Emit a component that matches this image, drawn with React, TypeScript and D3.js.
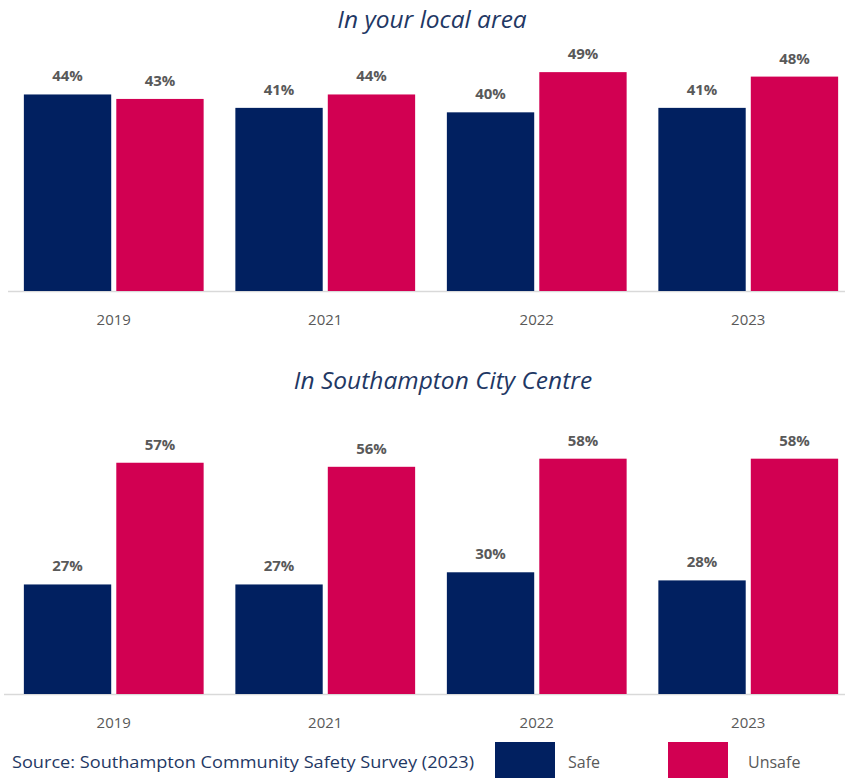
import React, { useEffect, useRef } from 'react';
import * as d3 from 'd3';

const YEARS = ['2019', '2021', '2022', '2023'];
const SERIES = ['Safe', 'Unsafe'];
const LOCAL_SAFE = [44, 41, 40, 41];
const LOCAL_UNSAFE = [43, 44, 49, 48];
const CITY_SAFE = [27, 27, 30, 28];
const CITY_UNSAFE = [57, 56, 58, 58];
const TITLES = ['In your local area', 'In Southampton City Centre'];
const SOURCE = 'Source: Southampton Community Safety Survey (2023)';

const COLORS: Record<string, string> = { Safe: '#012060', Unsafe: '#D20052' };
const FONT = '"Open Sans", "DejaVu Sans", sans-serif';

const W = 845;
const H = 778;

const App: React.FC = () => {
  const svgRef = useRef<SVGSVGElement | null>(null);

  useEffect(() => {
    if (!svgRef.current) return;
    const svg = d3.select(svgRef.current);
    svg.selectAll('*').remove();

    const x = d3.scaleBand<string>().domain(YEARS).range([8, 854]).paddingInner(0.15).paddingOuter(0.075);
    const xs = d3.scaleBand<string>().domain(SERIES).range([0, x.bandwidth()]).paddingInner(0.055);

    // each panel: baseline, y scale, data
    const panels = [
      {
        title: TITLES[0], titleY: 28, titleX: 432,
        y: d3.scaleLinear().domain([0, 60]).range([291, 23]),
        values: { Safe: LOCAL_SAFE, Unsafe: LOCAL_UNSAFE } as Record<string, number[]>,
        lineX0: 8,
      },
      {
        title: TITLES[1], titleY: 389, titleX: 443,
        y: d3.scaleLinear().domain([0, 70]).range([694, 410]),
        values: { Safe: CITY_SAFE, Unsafe: CITY_UNSAFE } as Record<string, number[]>,
        lineX0: 4,
      },
    ];

    panels.forEach((p) => {
      const g = svg.append('g');
      const base = p.y(0);

      g.append('text')
        .attr('x', p.titleX)
        .attr('y', p.titleY)
        .attr('text-anchor', 'middle')
        .attr('font-family', FONT)
        .attr('font-style', 'italic')
        .attr('font-size', 24.5)
        .attr('fill', '#1F3864')
        .text(p.title);

      g.append('line')
        .attr('x1', p.lineX0).attr('x2', W)
        .attr('y1', base + 0.5).attr('y2', base + 0.5)
        .attr('stroke', '#D9D9D9')
        .attr('stroke-width', 1.5);

      YEARS.forEach((yr, i) => {
        const gx = x(yr)!;
        SERIES.forEach((s) => {
          const v = p.values[s][i];
          const bx = gx + xs(s)!;
          g.append('rect')
            .attr('x', bx)
            .attr('y', p.y(v))
            .attr('width', xs.bandwidth())
            .attr('height', base - p.y(v))
            .attr('fill', COLORS[s]);
          g.append('text')
            .attr('x', bx + xs.bandwidth() / 2)
            .attr('y', p.y(v) - 13)
            .attr('text-anchor', 'middle')
            .attr('font-family', FONT)
            .attr('font-weight', 700)
            .attr('font-size', 15)
            .attr('fill', '#595959')
            .text(`${v}%`);
        });
        g.append('text')
          .attr('x', gx + x.bandwidth() / 2)
          .attr('y', base + 34)
          .attr('text-anchor', 'middle')
          .attr('font-family', FONT)
          .attr('font-size', 15)
          .attr('fill', '#595959')
          .text(yr);
      });
    });

    // source + legend
    svg.append('text')
      .attr('x', 12)
      .attr('y', 768)
      .attr('font-family', FONT)
      .attr('font-size', 16)
      .attr('fill', '#1F3864')
      .attr('textLength', 462)
      .attr('lengthAdjust', 'spacingAndGlyphs')
      .text(SOURCE);

    const legendX = [495, 668];
    SERIES.forEach((s, i) => {
      svg.append('rect')
        .attr('x', legendX[i])
        .attr('y', 742)
        .attr('width', 60)
        .attr('height', 40)
        .attr('fill', COLORS[s]);
      svg.append('text')
        .attr('x', legendX[i] + 73 + (i === 1 ? 7 : 0))
        .attr('y', 768)
        .attr('font-family', FONT)
        .attr('font-size', 16)
        .attr('fill', '#595959')
        .text(s);
    });
  }, []);

  return (
    <div style={{ position: 'absolute', left: 0, top: 0, background: '#fff' }}>
      <svg ref={svgRef} width={W} height={H} style={{ display: 'block' }}></svg>
    </div>
  );
};

export default App;
